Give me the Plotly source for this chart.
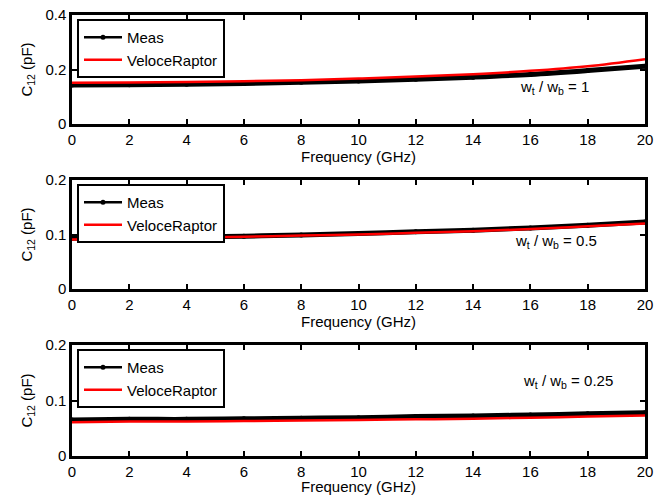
import plotly.graph_objects as go

# Frequency sweep (GHz)
freq = [0, 2, 4, 6, 8, 10, 12, 14, 16, 18, 20]

# Coupling capacitance C12 (pF) for three width ratios
meas_w1 = [0.143, 0.144, 0.146, 0.149, 0.153, 0.158, 0.164, 0.172, 0.182, 0.196, 0.212]
sim_w1 = [0.151, 0.152, 0.154, 0.157, 0.161, 0.167, 0.174, 0.183, 0.195, 0.212, 0.238]

meas_w05 = [0.093, 0.094, 0.095, 0.097, 0.099, 0.102, 0.105, 0.108, 0.112, 0.117, 0.123]
sim_w05 = [0.091, 0.092, 0.094, 0.096, 0.098, 0.100, 0.103, 0.106, 0.110, 0.115, 0.120]

meas_w025 = [0.065, 0.066, 0.066, 0.067, 0.068, 0.069, 0.071, 0.072, 0.074, 0.076, 0.078]
sim_w025 = [0.061, 0.062, 0.062, 0.063, 0.064, 0.065, 0.066, 0.067, 0.069, 0.071, 0.073]

ratio_labels = ["w<sub>t</sub> / w<sub>b</sub> = 1",
                "w<sub>t</sub> / w<sub>b</sub> = 0.5",
                "w<sub>t</sub> / w<sub>b</sub> = 0.25"]

y_ranges = [[0, 0.4], [0, 0.2], [0, 0.2]]
y_ticks = [[0, 0.2, 0.4], [0, 0.1, 0.2], [0, 0.1, 0.2]]
y_ticktext = [["0", "0.2", "0.4"], ["0", "0.1", "0.2"], ["0", "0.1", "0.2"]]
x_ticks = list(range(0, 21, 2))

W, H = 667, 495
FONT = "Liberation Sans, Arial, Helvetica, sans-serif"
FS = 15

# panel boxes in pixels: (top, bottom)
panels = [(15, 124), (180, 289), (345, 456)]
x_left, x_right = 72, 645

series = [(meas_w1, sim_w1), (meas_w05, sim_w05), (meas_w025, sim_w025)]
label_pos = [(554, 87), (556, 241), (568, 381)]

fig = go.Figure()
layout = dict(
    width=W, height=H,
    margin=dict(l=0, r=0, t=0, b=0, autoexpand=False),
    paper_bgcolor="white", plot_bgcolor="white",
    font=dict(family=FONT, size=FS, color="black"),
    showlegend=True,
    annotations=[],
)

for i, ((meas, sim), (top, bot)) in enumerate(zip(series, panels)):
    n = "" if i == 0 else str(i + 1)
    xa, ya = "x" + n, "y" + n
    leg = "legend" + n
    # thick body of the measured curve
    fig.add_trace(go.Scatter(
        x=freq, y=meas, name="Meas", mode="lines",
        line=dict(color="black", width=5, shape="spline"),
        xaxis=xa, yaxis=ya, legend=leg, showlegend=False,
        cliponaxis=False, hoverinfo="skip",
    ))
    # measured points
    fig.add_trace(go.Scatter(
        x=freq, y=meas, name="Meas", mode="lines+markers",
        line=dict(color="black", width=2.5, shape="spline"),
        marker=dict(color="black", size=5),
        xaxis=xa, yaxis=ya, legend=leg, cliponaxis=False,
    ))
    fig.add_trace(go.Scatter(
        x=freq, y=sim, name="VeloceRaptor", mode="lines",
        line=dict(color="red", width=2.5, shape="spline"),
        xaxis=xa, yaxis=ya, legend=leg, cliponaxis=False,
    ))
    y0, y1 = 1 - bot / H, 1 - top / H
    common = dict(
        showline=True, linecolor="black", linewidth=2.5, mirror="ticks",
        ticks="inside", ticklen=5, tickwidth=2, tickcolor="black",
        showgrid=False, zeroline=False, automargin=False,
        tickfont=dict(family=FONT, size=FS, color="black"),
    )
    layout["xaxis" + n] = dict(
        domain=[x_left / W, x_right / W], range=[0, 20],
        tickvals=x_ticks, anchor=ya,
        title=dict(text="Frequency (GHz)", standoff=1,
                   font=dict(family=FONT, size=FS)),
        **common,
    )
    layout["yaxis" + n] = dict(
        domain=[y0, y1], range=y_ranges[i],
        tickvals=y_ticks[i], ticktext=y_ticktext[i], anchor=xa,
        title=dict(text="C<sub>12</sub> (pF)", standoff=10,
                   font=dict(family=FONT, size=FS)),
        **common,
    )
    layout[leg] = dict(
        x=(x_left + 5) / W, y=1 - (top + 4) / H,
        xanchor="left", yanchor="top",
        bgcolor="white", bordercolor="black", borderwidth=2,
        font=dict(family=FONT, size=FS, color="black"),
        tracegroupgap=0, itemwidth=38,
    )
    lx, ly = label_pos[i]
    layout["annotations"].append(dict(
        text=ratio_labels[i], xref="paper", yref="paper",
        x=lx / W, y=1 - ly / H, xanchor="center", yanchor="middle",
        showarrow=False, font=dict(family=FONT, size=FS, color="black"),
    ))

fig.update_layout(**layout)
fig.write_html("out.html")
